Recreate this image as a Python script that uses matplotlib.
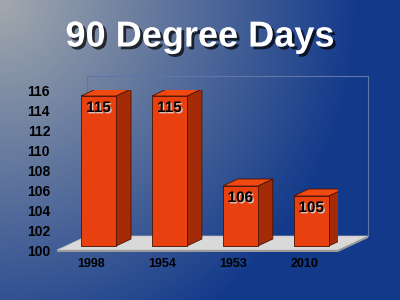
import numpy as np
import matplotlib
matplotlib.use("Agg")
import matplotlib.pyplot as plt
from matplotlib.patches import Polygon
import matplotlib.patheffects as pe

title = "90 Degree Days"
years = ["1998", "1954", "1953", "2010"]
days = [115, 115, 106, 105]
yticks = [100, 102, 104, 106, 108, 110, 112, 114, 116]

plt.rcParams["font.family"] = ["Liberation Sans", "DejaVu Sans"]
plt.rcParams["font.weight"] = "bold"

fig = plt.figure(figsize=(4, 3), dpi=100)

# background gradient, light grey in the top left corner to dark blue
bg = fig.add_axes([0, 0, 1, 1])
yy, xx = np.mgrid[0:300, 0:400]
t = np.clip(np.sqrt((xx / 360.0) ** 2 + (yy / 380.0) ** 2), 0, 1)[..., None]
c0 = np.array([0xa3, 0xa9, 0xae]) / 255.0
c1 = np.array([0x12, 0x39, 0x8a]) / 255.0
bg.imshow(c0 * (1 - t) + c1 * t, aspect="auto", extent=(0, 1, 0, 1))
bg.axis("off")

fig.text(0.5, 0.845, title, ha="center", va="baseline", color="white",
         fontsize=26, fontweight="bold",
         path_effects=[pe.withSimplePatchShadow(offset=(2, -2), shadow_rgbFace="black", alpha=0.7)])

ax = fig.add_axes([57 / 400, 50 / 300, 281 / 400, 160 / 300])
x0, x1 = -0.585, 3.378
ax.set_xlim(x0, x1)
ax.set_ylim(100, 116)
ax.patch.set_alpha(0)
for s in ax.spines.values():
    s.set_visible(False)

# depth offsets in data units
px = 1 / 70.9
fdx, fdy = 30 * px, 1.4
bdx, bdy = 15 * px, 0.7
bw = 35 * px
base = 100.4

# back wall
wall = "#5f76a8"
ax.plot([x0 + fdx, x0 + fdx, x1 + fdx, x1 + fdx], [100 + fdy, 116 + fdy, 116 + fdy, 100 + fdy],
        color=wall, lw=0.8, clip_on=False, zorder=1)

# floor
ax.add_patch(Polygon([(x0, 100), (x1, 100), (x1 + fdx, 100 + fdy), (x0 + fdx, 100 + fdy)],
                     closed=True, facecolor="#d9d9d9", edgecolor="#bdbdbd", lw=0.5, clip_on=False, zorder=2))
ax.add_patch(Polygon([(x0, 99.8), (x1, 99.8), (x1 + fdx, 99.8 + fdy), (x1 + fdx, 100 + fdy), (x1, 100), (x0, 100)],
                     closed=True, facecolor="#9a9a9a", edgecolor="none", clip_on=False, zorder=2))

for i, v in enumerate(days):
    l, r = i - bw / 2, i + bw / 2
    top = base + v - 100
    ax.add_patch(Polygon([(r, base), (r + bdx, base + bdy), (r + bdx, top + bdy), (r, top)],
                         closed=True, facecolor="#a32b07", edgecolor="#4a1200", lw=0.6, zorder=3))
    ax.add_patch(Polygon([(l, top), (r, top), (r + bdx, top + bdy), (l + bdx, top + bdy)],
                         closed=True, facecolor="#f04a12", edgecolor="#4a1200", lw=0.6, zorder=3))
    ax.add_patch(Polygon([(l, base), (r, base), (r, top), (l, top)],
                         closed=True, facecolor="#e8400e", edgecolor="#4a1200", lw=0.6, zorder=4))
    ax.text(i, top - 1.2, str(v), ha="center", va="center", fontsize=11, fontweight="bold",
            color="black", zorder=5,
            path_effects=[pe.withSimplePatchShadow(offset=(1, -1), shadow_rgbFace="#d0d0d0", alpha=0.9)])

ax.set_xticks(np.arange(len(years)) - 0.1, years)
ax.set_yticks(yticks, [str(y) for y in yticks])
ax.tick_params(axis="x", length=0, pad=6, labelsize=9)
ax.tick_params(axis="y", length=0, pad=5, labelsize=10)

plt.savefig("out.png", dpi=100)
